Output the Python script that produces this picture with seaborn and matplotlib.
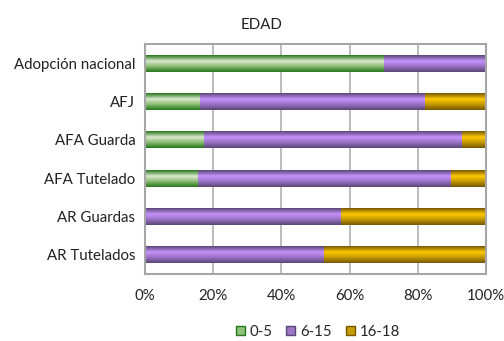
import numpy as np
import pandas as pd
import matplotlib
matplotlib.use('Agg')
import matplotlib.pyplot as plt
import seaborn as sns
from matplotlib.colors import LinearSegmentedColormap
from matplotlib.patches import Patch

# ==================== 数据 ====================
categorias = ['Adopción nacional', 'AFJ', 'AFA Guarda', 'AFA Tutelado', 'AR Guardas', 'AR Tutelados']
edad_0_5 = [70.0, 16.1, 17.3, 15.5, 0.0, 0.0]
edad_6_15 = [30.0, 66.0, 75.4, 74.2, 57.2, 52.4]
edad_16_18 = [0.0, 17.9, 7.3, 10.3, 42.8, 47.6]
series = ['0-5', '6-15', '16-18']

# colores: (borde oscuro, centro claro, medio)
colores = {
    '0-5': ('#26761a', '#dce9cf', '#8fbf78'),
    '6-15': ('#5a4676', '#c592fb', '#9c74c8'),
    '16-18': ('#765800', '#ffc800', '#c79c00'),
}

df = pd.DataFrame({'cat': categorias, '0-5': edad_0_5, '6-15': edad_6_15, '16-18': edad_16_18})
df['c1'] = df['0-5']
df['c2'] = df['0-5'] + df['6-15']
df['c3'] = df['c2'] + df['16-18']

sns.set_style('white')
plt.rcParams['font.family'] = ['Lato', 'DejaVu Sans']
fs = 10.8

fig = plt.figure(figsize=(5.04, 3.41), dpi=100)
ax = fig.add_axes([145 / 504, 1 - 274 / 341, 341 / 504, 230 / 341])

# barras apiladas: dibujar acumulados de mayor a menor
bar_h = 0.44
orden = ['16-18', '6-15', '0-5']
for col, s in zip(['c3', 'c2', 'c1'], orden):
    sns.barplot(data=df, x=col, y='cat', orient='h', color=colores[s][1],
                width=bar_h, ax=ax, linewidth=0, saturation=1)

# degradado sobre cada barra
n = len(categorias)
for i, p in enumerate(list(ax.patches)):
    s = orden[i // n]
    dark, light, mid = colores[s]
    cmap = LinearSegmentedColormap.from_list(
        s, [(0, dark), (0.35, light), (0.65, mid), (1, dark)], N=256)
    x0, y0 = p.get_x(), p.get_y()
    w, h = p.get_width(), p.get_height()
    if w <= 0:
        continue
    grad = np.linspace(0, 1, 64).reshape(-1, 1)
    im = ax.imshow(grad, cmap=cmap, aspect='auto', extent=[x0, x0 + w, y0 + h, y0],
                   zorder=p.get_zorder() + 0.1 + i * 0.001, interpolation='bilinear')
    im.set_clip_path(p)

ax.set_xlim(0, 100)
ax.set_ylim(n - 0.5, -0.5)
ax.set_xticks([0, 20, 40, 60, 80, 100])
ax.set_xticklabels(['0%', '20%', '40%', '60%', '80%', '100%'], fontsize=fs, color='#222222')
ax.set_yticks(range(n))
ax.set_yticklabels(categorias, fontsize=fs, color='#222222')
ax.set_xlabel('')
ax.set_ylabel('')
ax.set_axisbelow(True)
ax.grid(axis='x', color='#b0b0b0', linewidth=1.2)
ax.grid(axis='y', visible=False)
for sp in ax.spines.values():
    sp.set_color('#a6a6a6')
    sp.set_linewidth(1.5)
ax.tick_params(axis='x', length=4, color='#a6a6a6', pad=7)
ax.tick_params(axis='y', length=0, pad=7)
# marcas entre categorias
ax.set_yticks(np.arange(n + 1) - 0.5, minor=True)
ax.tick_params(axis='y', which='minor', length=4, color='#a6a6a6')

fig.text(0.518, 1 - 25 / 341, 'EDAD', ha='center', va='center', fontsize=fs, color='#222222')

handles = [Patch(facecolor=colores[s][2], edgecolor=colores[s][0], linewidth=1) for s in series]
fig.legend(handles, series, loc='center', bbox_to_anchor=(318 / 504, 1 - 332 / 341), ncol=3,
           frameon=False, fontsize=fs, handlelength=0.6, handleheight=0.6,
           handletextpad=0.35, columnspacing=0.9)

fig.savefig('out.png', dpi=100)
